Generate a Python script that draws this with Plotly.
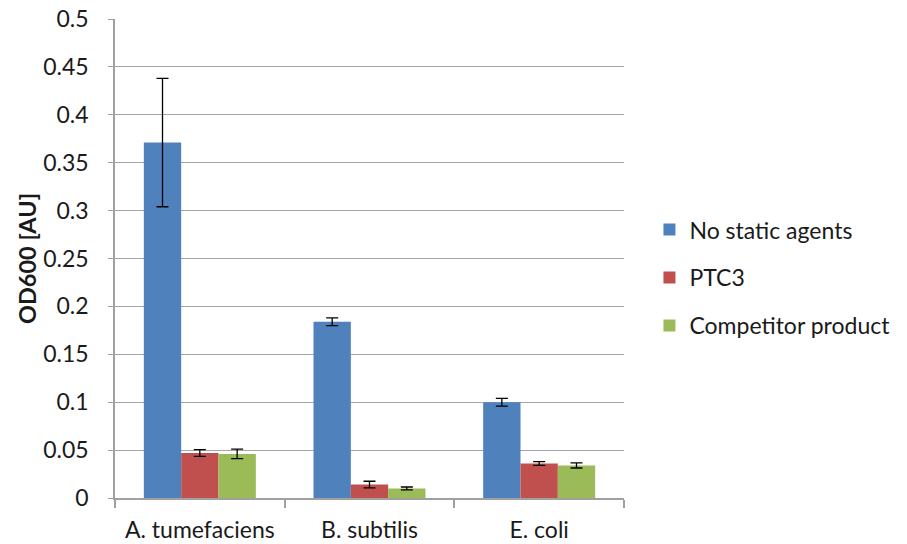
import plotly.graph_objects as go

categories = ["A. tumefaciens", "B. subtilis", "E. coli"]
series_names = ["No static agents", "PTC3", "Competitor product"]
no_static = [0.371, 0.184, 0.100]
no_static_err = [0.067, 0.004, 0.004]
ptc3 = [0.047, 0.014, 0.036]
ptc3_err = [0.0035, 0.0035, 0.002]
competitor = [0.046, 0.010, 0.034]
competitor_err = [0.005, 0.0015, 0.0027]
colors = ["#4F81BD", "#C0504D", "#9BBB59"]

font_family = "Lato, Noto Sans, sans-serif"

fig = go.Figure()
for i, (name, vals, errs) in enumerate(zip(series_names,
                                           [no_static, ptc3, competitor],
                                           [no_static_err, ptc3_err, competitor_err])):
    fig.add_trace(go.Bar(
        x=categories, y=vals, name=name, legendgroup=name,
        marker=dict(color=colors[i], line=dict(width=0)),
        error_y=dict(type="data", array=errs, visible=True,
                     color="black", thickness=1.3, width=6),
    ))

fig.update_layout(
    barmode="group",
    bargap=0.34,
    bargroupgap=0,
    width=891, height=536,
    margin=dict(l=107, r=275, t=11, b=46, autoexpand=False),
    plot_bgcolor="white", paper_bgcolor="white",
    font=dict(family=font_family, size=23, color="#1a1a1a"),
    showlegend=True,
    legend=dict(x=1.05, y=0.46, xanchor="left", yanchor="middle",
                font=dict(size=23), tracegroupgap=15, itemwidth=30),
    xaxis=dict(showline=True, linecolor="#A0A0A0", linewidth=1.5,
               ticks="outside", tickson="boundaries", ticklen=8,
               tickcolor="#A0A0A0", tickwidth=1.5,
               ticklabelstandoff=11,
               tickfont=dict(size=23)),
    yaxis=dict(range=[0, 0.5], dtick=0.05, showgrid=True,
               gridcolor="#A6A6A6", gridwidth=1.3,
               showline=True, linecolor="#A0A0A0", linewidth=1.5,
               ticks="outside", ticklen=5, tickcolor="#A0A0A0",
               ticklabelstandoff=15, ticklabeloverflow="allow",
               tickfont=dict(size=23), zeroline=False,
               title=dict(text="<b>OD600 [AU]</b>", font=dict(size=23.5), standoff=0)),
)

fig.write_html("out.html")
